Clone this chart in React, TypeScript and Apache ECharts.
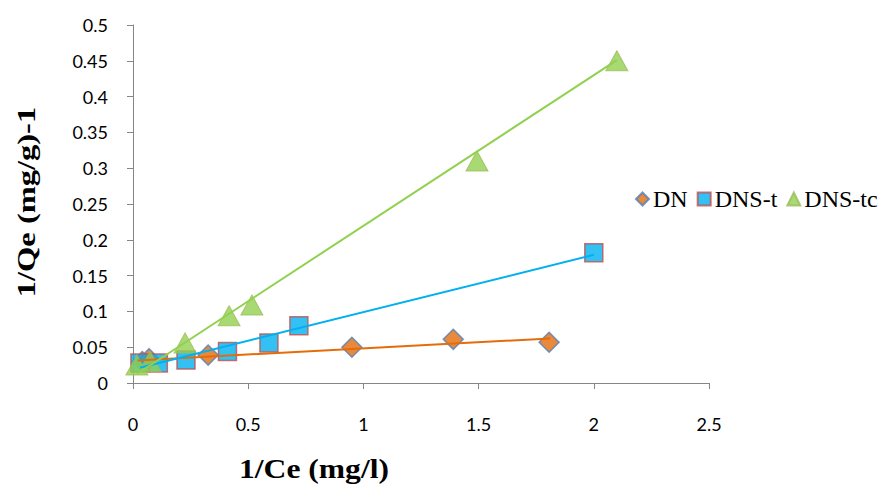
import React, { useEffect, useRef } from "react";
import * as echarts from "echarts";

// Data: [1/Ce, 1/Qe]
const dnX = [0.04, 0.07, 0.326, 0.95, 1.39, 1.806];
const dnY = [0.030, 0.034, 0.039, 0.050, 0.061, 0.057];
const dnsTX = [0.03, 0.11, 0.23, 0.41, 0.59, 0.72, 2.0];
const dnsTY = [0.028, 0.028, 0.032, 0.044, 0.056, 0.080, 0.182];
const dnsTcX = [0.017, 0.074, 0.226, 0.417, 0.516, 1.493, 2.1];
const dnsTcY = [0.025, 0.030, 0.056, 0.094, 0.109, 0.310, 0.450];

// Linear trend lines (endpoints)
const dnTrendX = [0.02, 1.81];
const dnTrendY = [0.0315, 0.0623];
const dnsTTrendX = [0.03, 2.0];
const dnsTTrendY = [0.0214, 0.179];
const dnsTcTrendX = [0.017, 2.1];
const dnsTcTrendY = [0.0126, 0.451];

const seriesNames = ["DN", "DNS-t", "DNS-tc"];
const xTicks = [0, 0.5, 1, 1.5, 2, 2.5];
const xTitle = "1/Ce (mg/l)";
const yTitle = "1/Qe (mg/g)-1";

const zip = (xs: number[], ys: number[]) => xs.map((x, i) => [x, ys[i]]);

const serif = "'Liberation Serif', 'Times New Roman', serif";

export default function App() {
  const ref = useRef<HTMLDivElement>(null);
  useEffect(() => {
    if (!ref.current) return;
    const chart = echarts.init(ref.current, null, { renderer: "svg" });
    const axisColor = "#868686";
    chart.setOption({
      animation: false,
      backgroundColor: "#ffffff",
      grid: { left: 133, right: 170, top: 25, bottom: 104, containLabel: false },
      legend: {
        data: seriesNames,
        left: 635,
        top: 187,
        width: 300,
        padding: 0,
        itemWidth: 13,
        itemHeight: 13,
        itemGap: 9,
        textStyle: { fontFamily: serif, fontSize: 24, color: "#000", padding: [0, 0, 0, -1] },
      },
      graphic: [
        {
          type: "text",
          x: 314,
          y: 469,
          scaleX: 1.17,
          style: {
            text: xTitle,
            fontFamily: serif,
            fontWeight: "bold",
            fontSize: 27,
            fill: "#000",
            align: "center",
            verticalAlign: "middle",
            textAlign: "center",
            textVerticalAlign: "middle",
          },
        },
        {
          type: "text",
          x: 26,
          y: 202,
          rotation: Math.PI / 2,
          scaleX: 1.25,
          style: {
            text: yTitle,
            fontFamily: serif,
            fontWeight: "bold",
            fontSize: 26,
            fill: "#000",
            align: "center",
            verticalAlign: "middle",
            textAlign: "center",
            textVerticalAlign: "middle",
          },
        },
      ],
      xAxis: {
        type: "value",
        min: xTicks[0],
        max: xTicks[xTicks.length - 1],
        interval: 0.5,
        splitLine: { show: false },
        axisLine: { show: true, onZero: false, lineStyle: { color: axisColor, width: 1 } },
        axisTick: { show: true, length: 6, lineStyle: { color: axisColor } },
        axisLabel: { margin: 32, fontFamily: "Lato", fontSize: 18, color: "#000", formatter: (v: number) => String(v) },
      },
      yAxis: {
        type: "value",
        min: 0,
        max: 0.5,
        interval: 0.05,
        splitLine: { show: false },
        axisLine: { show: true, onZero: false, lineStyle: { color: axisColor, width: 1 } },
        axisTick: { show: true, length: 6, lineStyle: { color: axisColor } },
        axisLabel: { margin: 25, fontFamily: "Lato", fontSize: 18, color: "#000", formatter: (v: number) => String(parseFloat(v.toFixed(2))) },
      },
      series: [
        {
          name: "DN",
          type: "scatter",
          symbol: "diamond",
          symbolSize: 20,
          data: zip(dnX, dnY),
          itemStyle: { color: "#E46C0A", borderColor: "#4F81BD", borderWidth: 1.5 },
          z: 2,
        },
        {
          name: "DNS-t",
          type: "scatter",
          symbol: "rect",
          symbolSize: 18,
          data: zip(dnsTX, dnsTY),
          itemStyle: { color: "#00B0F0", borderColor: "#C0504D", borderWidth: 1.5 },
          z: 2,
        },
        {
          name: "DNS-tc",
          type: "scatter",
          symbol: "triangle",
          symbolSize: [22, 20],
          data: zip(dnsTcX, dnsTcY),
          itemStyle: { color: "#92D050", borderColor: "#9BBB59", borderWidth: 1 },
          z: 2,
        },
        {
          name: "DN trend",
          type: "line",
          data: zip(dnTrendX, dnTrendY),
          showSymbol: false,
          lineStyle: { color: "#E46C0A", width: 2 },
          z: 5,
          silent: true,
        },
        {
          name: "DNS-t trend",
          type: "line",
          data: zip(dnsTTrendX, dnsTTrendY),
          showSymbol: false,
          lineStyle: { color: "#00B0F0", width: 2 },
          z: 5,
          silent: true,
        },
        {
          name: "DNS-tc trend",
          type: "line",
          data: zip(dnsTcTrendX, dnsTcTrendY),
          showSymbol: false,
          lineStyle: { color: "#92D050", width: 2 },
          z: 5,
          silent: true,
        },
      ],
    });
    return () => chart.dispose();
  }, []);
  return <div ref={ref} style={{ width: 879, height: 487, position: "absolute", left: 0, top: 0 }} />;
}
